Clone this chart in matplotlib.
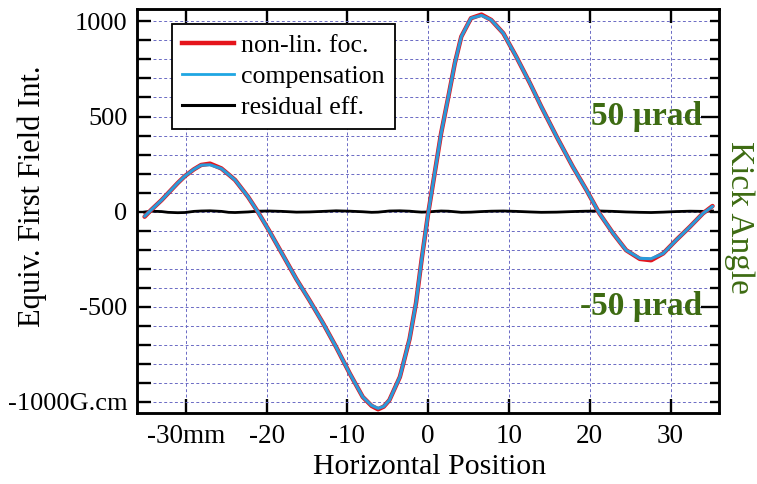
import numpy as np
import matplotlib
matplotlib.use('Agg')
import matplotlib.pyplot as plt
from matplotlib.lines import Line2D
from matplotlib.ticker import MultipleLocator
import matplotlib.transforms as mtransforms

# Data (mm, G.cm)
position = [-35.1, -34.3, -33.0, -32.2, -31.0, -30.1, -29.0, -28.1, -27.0, -25.6,
            -24.7, -23.9, -22.3, -21.1, -19.7, -18.1, -16.3, -14.7, -13.0, -11.4,
            -9.7, -8.1, -7.0, -6.2, -5.5, -4.8, -3.5, -2.3, -1.5, -0.8,
            0.0, 0.8, 1.6, 2.5, 3.3, 4.1, 5.3, 6.6, 7.8, 9.3,
            10.9, 12.6, 14.0, 15.9, 17.9, 19.6, 21.2, 22.9, 24.5, 26.2,
            27.6, 29.1, 30.7, 32.4, 34.0, 35.2]
nonlin_foc = [-27, 8, 60, 96, 150, 187, 222, 245, 252, 227,
              195, 166, 78, 0, -100, -220, -356, -466, -588, -712,
              -852, -975, -1022, -1040, -1026, -992, -870, -670, -480, -250,
              -10, 200, 411, 604, 780, 920, 1017, 1036, 1008, 938,
              815, 675, 552, 394, 236, 113, -10, -115, -203, -249,
              -256, -220, -150, -80, -10, 29]
compensation = [-25, 8, 60, 96, 150, 187, 222, 244, 246, 226,
                195, 166, 78, 0, -100, -220, -356, -466, -588, -712,
                -852, -975, -1020, -1035, -1025, -992, -870, -670, -480, -250,
                -10, 200, 411, 604, 780, 920, 1017, 1032, 1008, 938,
                815, 675, 552, 394, 236, 113, -10, -115, -203, -246,
                -248, -220, -150, -80, -10, 27]
residual = [-3, 2, 0, -4, -6, -5, 1, 3, 4, 1,
            -4, -5, -2, 2, 3, 1, -3, -2, 1, 4,
            2, -1, -4, -3, 0, 3, 4, 2, -1, -3,
            -2, 1, 3, 2, -1, -4, -3, 0, 2, 3,
            1, -2, -4, -3, 0, 2, 3, 1, -2, -4,
            -5, -3, 0, 2, 1, 3]

x_ticks = [-30, -20, -10, 0, 10, 20, 30]
x_tick_labels = ['-30mm', '-20', '-10', '0', '10', '20', '30']
y_ticks = [-1000, -500, 0, 500, 1000]
y_tick_labels = ['-1000G.cm', '-500', '0', '500', '1000']

GREEN = '#3d6b12'
RED = '#e5141b'
BLUE = '#2b9ad9'
GRID = '#6a6ac4'

plt.rcParams['font.family'] = ['Liberation Serif', 'DejaVu Serif']

fig = plt.figure(figsize=(7.57, 4.84), dpi=100)
ax = fig.add_axes([0.1814, 0.1473, 0.7684, 0.8351])

ax.plot(position, residual, color='black', lw=2.0, zorder=3)
ax.plot(position, nonlin_foc, color=RED, lw=3.2, zorder=4,
        solid_capstyle='round', solid_joinstyle='round')
ax.plot(position, compensation, color=BLUE, lw=2.2, zorder=5,
        solid_capstyle='round', solid_joinstyle='round')

ax.set_xlim(-36, 36)
ax.set_ylim(-1058, 1068)

ax.set_xticks(x_ticks)
ax.set_xticklabels(x_tick_labels)
ax.set_yticks(y_ticks)
ax.set_yticklabels(y_tick_labels)
ax.yaxis.set_minor_locator(MultipleLocator(100))

ax.tick_params(axis='x', which='major', direction='in', length=10, width=1.7,
               top=True, labeltop=False, labelsize=19.5, pad=8)
ax.tick_params(axis='y', which='both', direction='in', length=10, width=1.7,
               right=False, labelsize=19, pad=7)

for s in ax.spines.values():
    s.set_linewidth(1.8)

# dashed grid: every 10 mm, every 100 G.cm
ax.grid(True, which='major', axis='x', color=GRID, lw=0.7, ls=(0, (3, 2.5)))
ax.grid(True, which='both', axis='y', color=GRID, lw=0.7, ls=(0, (3, 2.5)))
ax.set_axisbelow(True)

# right side: kick angle ticks
ax2 = ax.twinx()
ax2.set_ylim(ax.get_ylim())
ax2.set_yticks([-500, 500])
ax2.yaxis.set_minor_locator(MultipleLocator(100))
ax2.tick_params(axis='y', which='major', direction='in', length=13, width=1.7,
                labelright=False)
ax2.tick_params(axis='y', which='minor', direction='in', length=6.5, width=1.7)
for s in ax2.spines.values():
    s.set_linewidth(1.8)

trans = mtransforms.blended_transform_factory(ax.transAxes, ax.transData)
ax.text(0.971, 500, '50 µrad', transform=trans, ha='right', va='center',
        color=GREEN, fontsize=24, fontweight='bold', zorder=6)
ax.text(0.971, -500, '-50 µrad', transform=trans, ha='right', va='center',
        color=GREEN, fontsize=24, fontweight='bold', zorder=6)

fig.text(0.567, 0.035, 'Horizontal Position', ha='center', va='center', fontsize=21.5)
fig.text(0.042, 0.595, 'Equiv. First Field Int.', ha='center', va='center',
         rotation=90, fontsize=22)
fig.text(0.977, 0.55, 'Kick Angle', ha='center', va='center', rotation=-90,
         fontsize=24, color=GREEN)

handles = [Line2D([], [], color=RED, lw=3.2),
           Line2D([], [], color='#1fa6e2', lw=2.0),
           Line2D([], [], color='black', lw=2.2)]
leg = ax.legend(handles, ['non-lin. foc.', 'compensation', 'residual eff.'],
                loc='upper left', bbox_to_anchor=(0.059, 0.962),
                fontsize=18.6, frameon=True, fancybox=False, framealpha=1,
                edgecolor='black', handlelength=2.0, handletextpad=0.3,
                borderpad=0.4, labelspacing=0.3, borderaxespad=0)
leg.get_frame().set_linewidth(1.3)
leg.set_zorder(10)

fig.savefig('out.png', dpi=100)
